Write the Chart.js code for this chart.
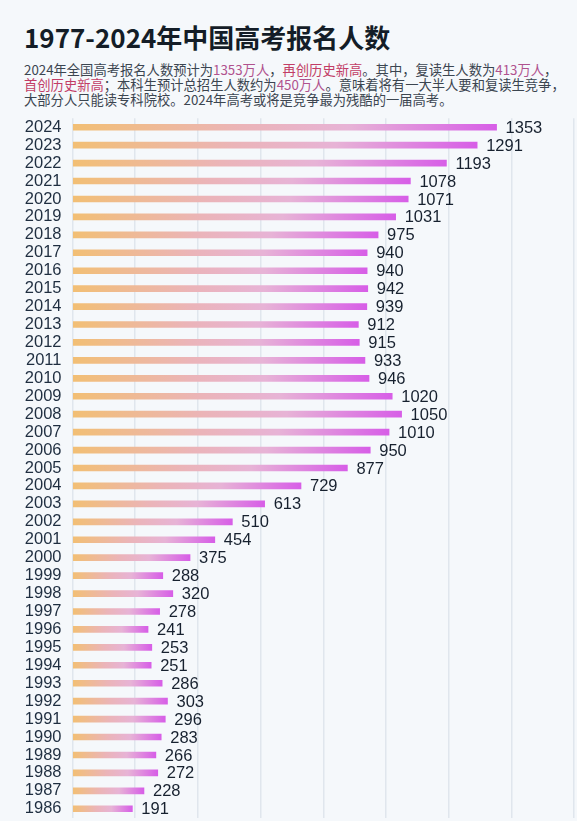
<!DOCTYPE html>
<html>
<head>
<meta charset="utf-8">
<script src="https://cdn.jsdelivr.net/npm/chart.js@4.4.1/dist/chart.umd.min.js"></script>
<style>
  html, body { margin: 0; padding: 0; background: #f5f8fb; overflow: hidden; }
  body { width: 577px; height: 821px; position: relative; font-family: "Noto Sans CJK SC", "Noto Sans", sans-serif; }
  h1 { position: absolute; left: 24px; top: 18px; margin: 0; font-size: 26px; font-weight: 700; color: #141d27; }
  .sub { position: absolute; left: 24px; top: 62px; width: 550px; margin: 0; font-size: 13.3px; line-height: 15.2px; color: #3b4550; }
  .num { color: #b0528e; }
  .hl { color: #c23d66; }
  #wrap { position: absolute; left: 0; top: 99px; width: 577px; height: 738px; }
</style>
</head>
<body>
<h1>1977-2024年中国高考报名人数</h1>
<p class="sub">2024年全国高考报名人数预计为<span class="num">1353万人</span>，<span class="hl">再创历史新高</span>。其中，复读生人数为<span class="num">413万人</span>，<br><span class="hl">首创历史新高</span>；本科生预计总招生人数约为<span class="num">450万人</span>。意味着将有一大半人要和复读生竞争，<br>大部分人只能读专科院校。2024年高考或将是竞争最为残酷的一届高考。</p>
<div id="wrap"><canvas id="c"></canvas></div>
<script>
// years shown top to bottom, values in 万人
var years = ['2024','2023','2022','2021','2020','2019','2018','2017','2016','2015',
  '2014','2013','2012','2011','2010','2009','2008','2007','2006','2005',
  '2004','2003','2002','2001','2000','1999','1998','1997','1996','1995',
  '1994','1993','1992','1991','1990','1989','1988','1987','1986'];
var applicants = [1353,1291,1193,1078,1071,1031,975,940,940,942,
  939,912,915,933,946,1020,1050,1010,950,877,
  729,613,510,454,375,288,320,278,241,253,
  251,286,303,296,283,266,272,228,191];
var xTicks = [0,200,400,600,800,1000,1200,1400,1600];

// each bar gets its own orange -> pink -> magenta gradient
function barFill(ctx) {
  var chart = ctx.chart;
  var xs = chart.scales.x;
  if (!chart.chartArea || !xs || ctx.dataIndex === undefined) return '#e8b1c4';
  var x0 = xs.getPixelForValue(0);
  var x1 = xs.getPixelForValue(applicants[ctx.dataIndex]);
  if (!isFinite(x0) || !isFinite(x1) || x1 - x0 < 1) return '#f1bd77';
  var g = chart.ctx.createLinearGradient(x0, 0, x1, 0);
  g.addColorStop(0, '#f2bf74');
  g.addColorStop(0.4, '#ebb4b8');
  g.addColorStop(0.65, '#e7b3d6');
  g.addColorStop(1, '#d75ee7');
  return g;
}

var valueLabels = {
  id: 'valueLabels',
  afterDatasetsDraw: function (chart) {
    var c = chart.ctx;
    var meta = chart.getDatasetMeta(0);
    c.save();
    c.font = '16.5px "Liberation Sans", Arial, sans-serif';
    c.fillStyle = '#17212f';
    c.textAlign = 'left';
    c.textBaseline = 'middle';
    meta.data.forEach(function (bar, i) {
      c.fillText(String(applicants[i]), bar.x + 9, bar.y + 1);
    });
    c.restore();
  }
};

new Chart(document.getElementById('c'), {
  type: 'bar',
  data: {
    labels: years,
    datasets: [{
      data: applicants,
      backgroundColor: barFill,
      barThickness: 6,
      borderWidth: 0
    }]
  },
  options: {
    indexAxis: 'y',
    responsive: true,
    maintainAspectRatio: false,
    animation: false,
    layout: { padding: { top: 9, bottom: 6, right: 3, left: 0 } },
    plugins: { legend: { display: false }, tooltip: { enabled: false } },
    scales: {
      x: {
        min: 0, max: 1600,
        afterBuildTicks: function (s) { s.ticks = xTicks.map(function (v) { return { value: v }; }); },
        afterFit: function (s) { s.height = 0; },
        ticks: { display: false },
        grid: { color: '#e0e6ed', lineWidth: 1.5, drawTicks: false },
        border: { display: false }
      },
      y: {
        grid: { display: false, drawTicks: false },
        border: { display: false },
        afterFit: function (s) { s.width = 72.5; },
        ticks: {
          padding: 11,
          autoSkip: false,
          color: '#1f2e40',
          font: { family: '"Liberation Sans", Arial, sans-serif', size: 16.5, lineHeight: 1 }
        }
      }
    }
  },
  plugins: [valueLabels]
});
</script>
</body>
</html>
